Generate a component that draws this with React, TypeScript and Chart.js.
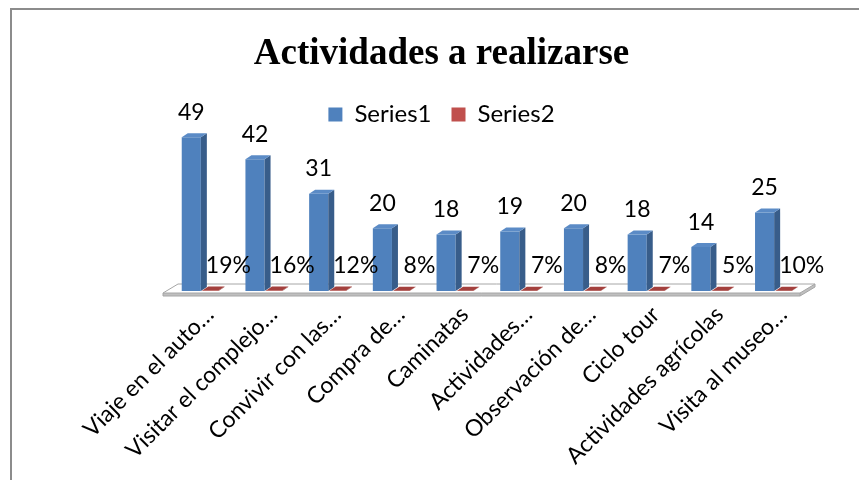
import React, { useEffect, useRef } from "react";
import { Chart, registerables } from "chart.js";

Chart.register(...registerables);

const chartTitle = "Actividades a realizarse";
const categories = [
  "Viaje en el auto\u2026",
  "Visitar el complejo\u2026",
  "Convivir con las\u2026",
  "Compra de\u2026",
  "Caminatas",
  "Actividades\u2026",
  "Observación de\u2026",
  "Ciclo tour",
  "Actividades agrícolas",
  "Visita al museo\u2026",
];
const series1Name = "Series1";
const series2Name = "Series2";
const series1 = [49, 42, 31, 20, 18, 19, 20, 18, 14, 25];
const series2 = [0.19, 0.16, 0.12, 0.08, 0.07, 0.07, 0.08, 0.07, 0.05, 0.1];

const LABEL_FONT = "Lato, 'Noto Sans', sans-serif";
const DX = 6;
const DY = 4;

function shade(ctx: CanvasRenderingContext2D, pts: number[][], fill: string) {
  ctx.beginPath();
  ctx.moveTo(pts[0][0], pts[0][1]);
  for (let i = 1; i < pts.length; i++) ctx.lineTo(pts[i][0], pts[i][1]);
  ctx.closePath();
  ctx.fillStyle = fill;
  ctx.fill();
}

const threeDPlugin = {
  id: "threeD",
  beforeDraw(chart: any) {
    const { ctx, width, height } = chart;
    ctx.save();
    ctx.fillStyle = "#ffffff";
    ctx.fillRect(0, 0, width, height);
    ctx.strokeStyle = "#8c8c8c";
    ctx.lineWidth = 2;
    ctx.beginPath();
    ctx.moveTo(11, height);
    ctx.lineTo(11, 9);
    ctx.lineTo(width, 9);
    ctx.stroke();
    ctx.restore();
  },
  beforeDatasetsDraw(chart: any) {
    const { ctx, chartArea } = chart;
    const y0 = chart.scales.y.getPixelForValue(0);
    const fl = chartArea.left - 6;
    const fr = chartArea.right - 6;
    const fy = y0 + 2;
    const bdx = 15;
    const bdy = 9;
    const th = 3;
    ctx.save();
    shade(ctx, [[fl, fy], [fr, fy], [fr + bdx, fy - bdy], [fl + bdx, fy - bdy]], "#ffffff");
    shade(ctx, [[fl, fy], [fr, fy], [fr, fy + th], [fl, fy + th]], "#bfbfbf");
    shade(ctx, [[fr, fy], [fr + bdx, fy - bdy], [fr + bdx, fy - bdy + th], [fr, fy + th]], "#bfbfbf");
    ctx.strokeStyle = "#a6a6a6";
    ctx.lineWidth = 1;
    ctx.beginPath();
    ctx.moveTo(fl, fy + th);
    ctx.lineTo(fl, fy);
    ctx.lineTo(fl + bdx, fy - bdy);
    ctx.lineTo(fr + bdx, fy - bdy);
    ctx.lineTo(fr + bdx, fy - bdy + th);
    ctx.lineTo(fr, fy + th);
    ctx.lineTo(fl, fy + th);
    ctx.moveTo(fl, fy);
    ctx.lineTo(fr, fy);
    ctx.lineTo(fr + bdx, fy - bdy);
    ctx.moveTo(fr, fy);
    ctx.lineTo(fr, fy + th);
    ctx.stroke();
    ctx.restore();
  },
  afterDatasetsDraw(chart: any) {
    const { ctx } = chart;
    ctx.save();
    const colors = [
      { side: "#385d8a", top: "#5b8bc6" },
      { side: "#8c3a38", top: "#a3403d" },
    ];
    chart.data.datasets.forEach((ds: any, di: number) => {
      const meta = chart.getDatasetMeta(di);
      meta.data.forEach((bar: any) => {
        const { x, y, base, width } = bar.getProps(["x", "y", "base", "width"], true);
        const l = x - width / 2;
        const r = x + width / 2;
        shade(ctx, [[r, y], [r + DX, y - DY], [r + DX, base - DY], [r, base]], colors[di].side);
        shade(ctx, [[l, y], [r, y], [r + DX, y - DY], [l + DX, y - DY]], colors[di].top);
      });
    });
    ctx.fillStyle = "#000000";
    ctx.font = `23px ${LABEL_FONT}`;
    ctx.textAlign = "center";
    ctx.textBaseline = "middle";
    const m1 = chart.getDatasetMeta(0);
    m1.data.forEach((bar: any, i: number) => {
      const { x, y } = bar.getProps(["x", "y"], true);
      ctx.fillText(String(series1[i]), x, y - 25);
    });
    const m2 = chart.getDatasetMeta(1);
    m2.data.forEach((bar: any, i: number) => {
      const { x, base } = bar.getProps(["x", "base"], true);
      ctx.fillText(Math.round(series2[i] * 100) + "%", x + 18, base - 25);
    });
    ctx.restore();
  },
};

export default function App() {
  const ref = useRef<HTMLCanvasElement | null>(null);
  useEffect(() => {
    if (!ref.current) return;
    const chart = new Chart(ref.current, {
      type: "bar",
      data: {
        labels: categories,
        datasets: [
          {
            label: series1Name,
            data: series1,
            backgroundColor: "#4f81bd",
            borderWidth: 0,
            categoryPercentage: 0.6,
            barPercentage: 1,
          },
          {
            label: series2Name,
            data: series2,
            backgroundColor: "#c0504d",
            borderWidth: 0,
            categoryPercentage: 0.6,
            barPercentage: 0.85,
          },
        ],
      },
      options: {
        responsive: false,
        animation: false,
        layout: { padding: { left: 24, right: 0, top: 12, bottom: 0 } },
        plugins: {
          title: {
            display: true,
            text: chartTitle,
            color: "#000000",
            font: { family: "'Liberation Serif', 'DejaVu Serif', serif", size: 37, weight: "bold" },
            padding: { top: 20, bottom: 6 },
          },
          legend: {
            display: true,
            position: "top",
            labels: {
              color: "#000000",
              font: { family: LABEL_FONT, size: 24 },
              boxWidth: 14,
              boxHeight: 14,
              padding: 20,
            },
          },
          tooltip: { enabled: false },
        },
        scales: {
          x: {
            grid: { display: false, drawTicks: false },
            border: { display: false },
            ticks: {
              color: "#000000",
              font: { family: LABEL_FONT, size: 23 },
              maxRotation: 45,
              minRotation: 45,
              padding: 10,
              labelOffset: 9,
              autoSkip: false,
            },
            afterFit: (s: any) => {
              s.height = 189;
            },
          },
          y: {
            position: "left",
            min: 0,
            max: 49.3,
            grid: { display: false, drawTicks: false },
            border: { display: false },
            ticks: { display: false },
            afterFit: (s: any) => {
              s.width = 145;
            },
          },
          y2: {
            position: "right",
            min: 0,
            max: 1,
            grid: { display: false, drawTicks: false },
            border: { display: false },
            ticks: { display: false },
            afterFit: (s: any) => {
              s.width = 53;
            },
          },
        },
      },
      plugins: [threeDPlugin],
    });
    return () => chart.destroy();
  }, []);
  return (
    <div style={{ position: "absolute", left: 0, top: 0, width: 859, height: 480, overflow: "hidden" }}>
      <canvas ref={ref} width={859} height={480} style={{ display: "block" }} />
    </div>
  );
}
